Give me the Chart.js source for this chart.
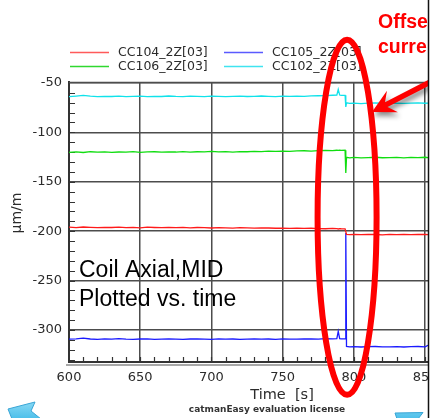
<!DOCTYPE html>
<html>
<head>
<meta charset="utf-8">
<script src="https://cdn.jsdelivr.net/npm/chart.js@4/dist/chart.umd.min.js"></script>
<style>
  html, body { margin: 0; padding: 0; background: #fff; }
  #wrap { position: relative; width: 437px; height: 418px; overflow: hidden; }
  canvas { display: block; }
</style>
</head>
<body>
<div id="wrap"><canvas id="c" width="460" height="418"></canvas></div>
<script>
// Strain gauge readings (µm/m) against time (s)
const times = [
  600, 605, 610, 615, 620, 625, 630, 635, 640, 645,
  650, 655, 660, 665, 670, 675, 680, 685, 690, 695,
  700, 705, 710, 715, 720, 725, 730, 735, 740, 745,
  750, 755, 760, 765, 770, 775, 780, 785,
  788, 789, 790, 791, 793.8, 794.3, 794.8, 797,
  800, 805, 810, 815, 820, 825, 830, 835, 840, 845, 850, 852
];
const cc104 = [ // red
  -196.0, -196.4, -195.8, -196.2, -196.5, -196.1, -196.3, -195.9, -196.4, -196.2,
  -196.6, -196.0, -196.3, -196.5, -196.1, -196.4, -196.2, -196.7, -196.3, -196.5,
  -196.8, -196.4, -196.6, -196.9, -196.5, -196.7, -197.0, -196.6, -196.8, -197.1,
  -196.9, -197.2, -197.0, -197.3, -197.1, -197.4, -197.6, -197.3,
  -197.5, -197.8, -197.4, -197.6, -197.7, -197.7, -203.2, -203.5,
  -203.3, -203.6, -203.2, -203.4, -203.7, -203.3, -203.5, -203.2, -203.6, -203.4, -203.3, -203.5
];
const cc105 = [ // blue
  -309.4, -309.0, -308.4, -309.2, -309.5, -309.1, -309.3, -308.9, -309.4, -309.6,
  -309.2, -309.0, -309.5, -309.3, -309.1, -309.4, -309.6, -309.2, -309.0, -309.3,
  -309.5, -309.1, -309.4, -309.2, -309.6, -309.3, -309.0, -309.4, -309.2, -309.5,
  -309.1, -309.3, -309.4, -309.2, -309.0, -309.3, -308.9, -309.1,
  -308.8, -301.5, -308.9, -309.0, -309.1, -202.0, -316.8, -317.2,
  -316.9, -317.3, -317.0, -316.8, -317.2, -317.1, -316.9, -317.3, -317.0, -316.8, -317.1, -315.5
];
const cc106 = [ // green
  -120.2, -119.8, -120.4, -119.6, -120.1, -119.7, -120.3, -119.9, -120.0, -119.5,
  -120.2, -119.8, -119.6, -120.1, -119.7, -119.9, -119.4, -120.0, -119.6, -119.8,
  -119.3, -119.7, -119.5, -119.9, -119.4, -119.6, -119.2, -119.5, -119.0, -119.3,
  -118.9, -119.2, -118.8, -118.6, -118.9, -118.4, -118.2, -118.5,
  -118.1, -118.3, -117.9, -118.2, -118.0, -141.0, -125.3, -125.8,
  -125.4, -125.9, -125.5, -125.2, -125.7, -125.6, -125.3, -125.8, -125.4, -125.6, -125.2, -125.5
];
const cc102 = [ // cyan
  -63.8, -63.2, -62.6, -63.4, -63.9, -63.5, -63.7, -63.3, -63.8, -63.6,
  -63.4, -63.9, -63.5, -63.7, -63.2, -63.6, -63.8, -63.4, -63.5, -63.9,
  -63.3, -63.6, -63.8, -63.5, -63.4, -63.7, -63.6, -63.2, -63.5, -63.8,
  -63.4, -63.6, -63.3, -63.5, -63.1, -62.9, -62.7, -62.4,
  -62.3, -56.5, -62.2, -62.6, -62.5, -74.2, -70.1, -70.6,
  -70.3, -70.8, -70.4, -70.2, -70.7, -70.5, -70.3, -70.6, -70.4, -70.2, -70.5, -70.4
];
const seriesNames = ['CC104_2Z[03]', 'CC105_2Z[03]', 'CC106_2Z[03]', 'CC102_2Z[03]'];
const seriesColors = ['#ff1a1a', '#1a1aff', '#10dd10', '#10e2ea'];
const legendColors = ['#ff5a5a', '#5a5aff', '#30d830', '#40e4f0'];
const xTickValues = [600, 650, 700, 750, 800, 850];
const yTickValues = [-50, -100, -150, -200, -250, -300];
const stepTime = 795.2;   // moment the offset appears

const seriesValues = [cc104, cc105, cc106, cc102];
const toPoints = vals => times.map((t, i) => ({ x: t, y: vals[i] }));

const GRID = '#4d4d4d';
const TICKFONT = { family: 'DejaVu Sans', size: 13 };
const PAGE_EDGE = 428.5;

const decor = {
  id: 'decor',
  beforeDraw(chart) {
    const ctx = chart.ctx;
    ctx.save();
    ctx.fillStyle = '#fff';
    ctx.fillRect(0, 0, chart.width, chart.height);
    ctx.restore();
  },
  beforeDatasetsDraw(chart) {
    const { ctx, chartArea: a, scales: { x, y } } = chart;
    ctx.save();
    // plot frame top
    ctx.strokeStyle = GRID;
    ctx.lineWidth = 1.5;
    ctx.beginPath();
    ctx.moveTo(a.left, a.top + 0.5);
    ctx.lineTo(a.right, a.top + 0.5);
    ctx.stroke();
    // minor ticks
    ctx.strokeStyle = '#333';
    ctx.lineWidth = 1.2;
    ctx.beginPath();
    for (let t = 610; t <= 850; t += 10) {
      const px = Math.round(x.getPixelForValue(t)) + 0.5;
      ctx.moveTo(px, a.bottom);
      ctx.lineTo(px, a.bottom - 5);
    }
    for (let v = -60; v >= -330; v -= 10) {
      const py = Math.round(y.getPixelForValue(v)) + 0.5;
      ctx.moveTo(a.left, py);
      ctx.lineTo(a.left + 6, py);
    }
    ctx.stroke();
    ctx.restore();
  },
  afterDraw(chart) {
    const { ctx, chartArea: a, scales: { x, y } } = chart;
    ctx.save();

    // bottom axis shadow
    ctx.strokeStyle = '#a8a8a8';
    ctx.lineWidth = 2;
    ctx.beginPath();
    ctx.moveTo(a.left - 3, a.bottom + 3);
    ctx.lineTo(a.right, a.bottom + 3);
    ctx.stroke();

    // legend, two columns
    ctx.font = '12.5px "DejaVu Sans"';
    ctx.textBaseline = 'middle';
    ctx.textAlign = 'left';
    const cols = [70, 224], rows = [52.5, 66.5];
    chart.data.datasets.forEach((ds, i) => {
      const cx = cols[i % 2], cy = rows[Math.floor(i / 2)];
      ctx.strokeStyle = legendColors[i];
      ctx.lineWidth = 1.3;
      ctx.beginPath();
      ctx.moveTo(cx, cy);
      ctx.lineTo(cx + 39, cy);
      ctx.stroke();
      ctx.fillStyle = '#2b2b2b';
      ctx.fillText(ds.label, cx + 48, cy);
    });

    // axis titles
    ctx.fillStyle = '#2b2b2b';
    ctx.font = '14px "DejaVu Sans"';
    ctx.save();
    ctx.translate(17, 213);
    ctx.rotate(-Math.PI / 2);
    ctx.textAlign = 'center';
    ctx.fillText('µm/m', 0, 0);
    ctx.restore();
    ctx.textAlign = 'center';
    ctx.font = '14.5px "DejaVu Sans"';
    ctx.fillText('Time  [s]', 282, 395);
    ctx.font = 'bold 9px "DejaVu Sans"';
    ctx.fillStyle = '#333';
    ctx.fillText('catmanEasy evaluation license', 267, 410);

    // caption inside plot
    ctx.textAlign = 'left';
    ctx.textBaseline = 'alphabetic';
    ctx.fillStyle = '#000';
    ctx.font = '23px "Liberation Sans"';
    ctx.fillText('Coil Axial,MID', 79, 277);
    ctx.fillText('Plotted vs. time', 79, 305.5);

    // highlight around the offset step
    const ex = x.getPixelForValue(stepTime);
    const ey = y.getPixelForValue(-186);
    ctx.strokeStyle = '#ff0000';
    ctx.lineWidth = 6;
    ctx.beginPath();
    ctx.ellipse(ex, ey, 29.5, 177.5, 0, 0, Math.PI * 2);
    ctx.stroke();

    // arrow pointing at the shift
    const tip = { x: 372, y: 112 }, tail = { x: 440, y: 77 };
    const dx = tail.x - tip.x, dy = tail.y - tip.y, len = Math.hypot(dx, dy);
    const ux = dx / len, uy = dy / len, nx = -uy, ny = ux;
    const headLen = 23, headHalf = 12, notch = 16, shaft = 2.7;
    ctx.save();
    ctx.shadowColor = 'rgba(0,0,0,0.45)';
    ctx.shadowBlur = 5;
    ctx.shadowOffsetX = 2;
    ctx.shadowOffsetY = 4;
    ctx.fillStyle = '#ff0000';
    ctx.beginPath();
    ctx.moveTo(tip.x, tip.y);
    ctx.lineTo(tip.x + ux * headLen + nx * headHalf, tip.y + uy * headLen + ny * headHalf);
    ctx.lineTo(tip.x + ux * notch + nx * shaft, tip.y + uy * notch + ny * shaft);
    ctx.lineTo(tail.x + nx * shaft, tail.y + ny * shaft);
    ctx.lineTo(tail.x - nx * shaft, tail.y - ny * shaft);
    ctx.lineTo(tip.x + ux * notch - nx * shaft, tip.y + uy * notch - ny * shaft);
    ctx.lineTo(tip.x + ux * headLen - nx * headHalf, tip.y + uy * headLen - ny * headHalf);
    ctx.closePath();
    ctx.fill();
    ctx.restore();

    // note text
    ctx.fillStyle = '#ff0000';
    ctx.font = 'bold 19.5px "Liberation Sans"';
    ctx.fillText('Offset', 378, 28);
    ctx.fillText('current', 378, 53);

    // navigation arrows along the bottom
    const grad = ctx.createLinearGradient(0, 400, 0, 418);
    grad.addColorStop(0, '#8fdcf6');
    grad.addColorStop(1, '#4fc0ea');
    ctx.fillStyle = grad;
    ctx.strokeStyle = '#3aa6d6';
    ctx.lineWidth = 1;
    ctx.beginPath();
    ctx.moveTo(8, 409);
    ctx.lineTo(35, 402);
    ctx.lineTo(31, 411);
    ctx.lineTo(41, 419);
    ctx.lineTo(12, 419);
    ctx.closePath();
    ctx.fill();
    ctx.stroke();
    ctx.beginPath();
    ctx.moveTo(395, 413);
    ctx.lineTo(423, 412.5);
    ctx.lineTo(418, 419);
    ctx.lineTo(397, 419);
    ctx.closePath();
    ctx.fill();
    ctx.stroke();

    // page edge
    ctx.fillStyle = '#fff';
    ctx.fillRect(PAGE_EDGE + 0.5, 0, chart.width - PAGE_EDGE, chart.height);
    ctx.strokeStyle = '#111';
    ctx.lineWidth = 1.5;
    ctx.beginPath();
    ctx.moveTo(PAGE_EDGE, 0);
    ctx.lineTo(PAGE_EDGE, chart.height);
    ctx.stroke();
    ctx.restore();
  }
};

new Chart(document.getElementById('c'), {
  type: 'line',
  data: {
    datasets: seriesValues.map((vals, i) => ({
      label: seriesNames[i],
      data: toPoints(vals),
      borderColor: seriesColors[i],
      backgroundColor: seriesColors[i],
      borderWidth: 1.3,
      pointRadius: 0,
      tension: 0,
      fill: false
    }))
  },
  options: {
    responsive: false,
    animation: false,
    events: [],
    layout: { padding: { top: 82, right: 32, left: 0, bottom: 0 } },
    plugins: { legend: { display: false }, tooltip: { enabled: false } },
    scales: {
      x: {
        type: 'linear',
        min: 600,
        max: 852,
        afterBuildTicks: s => { s.ticks = xTickValues.map(v => ({ value: v })); },
        afterFit: s => { s.height = 56; },
        ticks: { font: TICKFONT, color: '#2b2b2b', padding: 8, maxRotation: 0 },
        grid: { color: GRID, lineWidth: 1.5, drawTicks: false },
        border: { display: true, color: '#333', width: 2 }
      },
      y: {
        min: -332.5,
        max: -49,
        afterBuildTicks: s => { s.ticks = yTickValues.map(v => ({ value: v })); },
        afterFit: s => { s.width = 69; },
        ticks: { font: TICKFONT, color: '#2b2b2b', padding: 7 },
        grid: { color: GRID, lineWidth: 1.5, drawTicks: false },
        border: { display: true, color: '#333', width: 2 }
      }
    }
  },
  plugins: [decor]
});
</script>
</body>
</html>
